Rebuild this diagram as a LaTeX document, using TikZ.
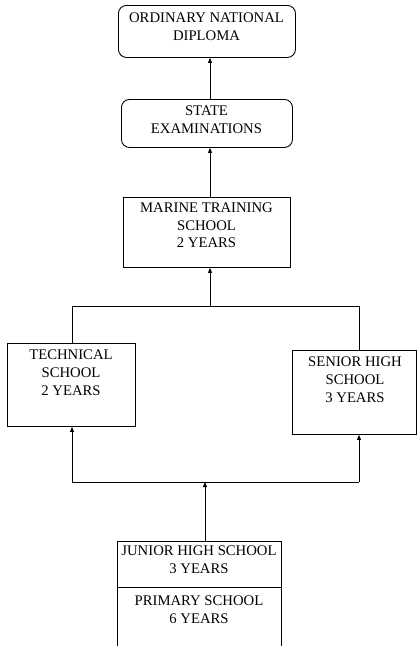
\documentclass[tikz,border=0pt]{standalone}
\usepackage{fontspec}
\setmainfont{Liberation Serif}
\usetikzlibrary{arrows.meta}
\begin{document}
\begin{tikzpicture}[x=1pt,y=-1pt,
  box/.style={draw, line width=0.9pt, inner sep=0pt, anchor=north west},
  rbox/.style={box, rounded corners=8pt},
  txt/.style={align=center, inner sep=0pt, font=\fontsize{14.7}{17.7}\selectfont},
  arr/.style={line width=0.8pt, -{Triangle[length=5pt,width=4pt]}},
  ln/.style={line width=0.8pt}]
\useasboundingbox (0,0) rectangle (416,646);
% boxes
\node[rbox, minimum width=177pt, minimum height=52pt] (ond) at (118,5) {};
\node[rbox, minimum width=171pt, minimum height=48pt] (state) at (121,99) {};
\node[box, minimum width=167pt, minimum height=70pt] (marine) at (123,197) {};
\node[box, minimum width=128pt, minimum height=83pt] (tech) at (7,343) {};
\node[box, minimum width=124pt, minimum height=84pt] (senior) at (292,350) {};
\node[box, minimum width=164pt, minimum height=46pt] (junior) at (117,541) {};
\node[box, minimum width=164pt, minimum height=65pt] (primary) at (117,587) {};
% texts
\node[txt] (tond) at (206.5,27) {ORDINARY NATIONAL\\DIPLOMA};
\node[txt] (tstate) at (206.5,119.5) {STATE\\EXAMINATIONS};
\node[txt] (tmarine) at (206.5,225.5) {MARINE TRAINING\\SCHOOL\\2 YEARS};
\node[txt] (ttech) at (71,372.5) {TECHNICAL\\SCHOOL\\2 YEARS};
\node[txt] (tsenior) at (355,379.5) {SENIOR HIGH\\SCHOOL\\3 YEARS};
\node[txt] (tjunior) at (199,560) {JUNIOR HIGH SCHOOL\\3 YEARS};
\node[txt] (tprimary) at (199,609.5) {PRIMARY SCHOOL\\6 YEARS};
% helper coordinates
\coordinate (ax) at (210,0);
\coordinate (lx) at (72,0);
\coordinate (rx) at (359,0);
\coordinate (jt) at (210,306);
\coordinate (jb) at (205,482);
% connectors
\draw[arr] (state.north -| ax) -- (ond.south -| ax);
\draw[arr] (marine.north -| ax) -- (state.south -| ax);
\draw[arr] (jt) -- (marine.south -| ax);
\draw[ln] (tech.north -| lx) -- (lx |- jt) -- (rx |- jt) -- (senior.north -| rx);
\draw[ln] (lx |- jb) -- (rx |- jb);
\draw[arr] (lx |- jb) -- (tech.south -| lx);
\draw[arr] (rx |- jb) -- (senior.south -| rx);
\draw[arr] (junior.north -| jb) -- (jb);
\end{tikzpicture}
\end{document}
